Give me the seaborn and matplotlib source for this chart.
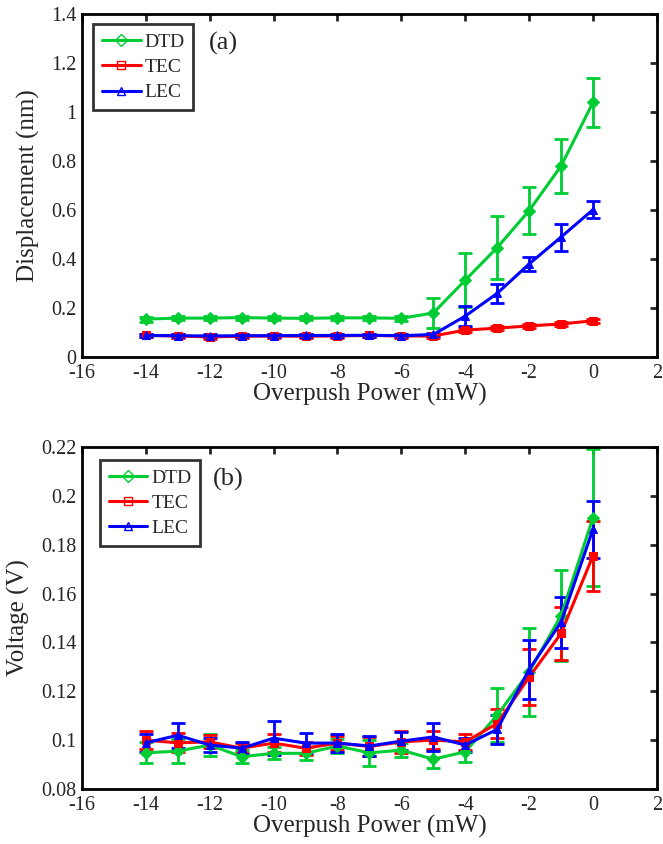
import numpy as np
import pandas as pd
import matplotlib
matplotlib.use("Agg")
import matplotlib.pyplot as plt
import seaborn as sns
from matplotlib.lines import Line2D
from matplotlib.ticker import FormatStrFormatter

# overpush power (mW)
power = [-14, -13, -12, -11, -10, -9, -8, -7, -6, -5, -4, -3, -2, -1, 0]

# (a) displacement (nm)
disp_dtd = [0.155, 0.159, 0.159, 0.161, 0.159, 0.158, 0.160, 0.160, 0.158, 0.180, 0.314, 0.447, 0.598, 0.780, 1.040]
disp_dtd_err = [0.010, 0.008, 0.008, 0.008, 0.008, 0.008, 0.008, 0.008, 0.010, 0.060, 0.110, 0.130, 0.095, 0.110, 0.100]
disp_tec = [0.088, 0.086, 0.082, 0.085, 0.086, 0.085, 0.086, 0.088, 0.086, 0.086, 0.110, 0.118, 0.127, 0.135, 0.148]
disp_tec_err = [0.008, 0.008, 0.008, 0.008, 0.008, 0.008, 0.008, 0.008, 0.008, 0.008, 0.008, 0.008, 0.008, 0.008, 0.008]
disp_lec = [0.088, 0.087, 0.086, 0.087, 0.087, 0.088, 0.088, 0.089, 0.087, 0.092, 0.167, 0.260, 0.380, 0.490, 0.602]
disp_lec_err = [0.006, 0.006, 0.006, 0.006, 0.006, 0.006, 0.006, 0.006, 0.006, 0.008, 0.040, 0.040, 0.030, 0.055, 0.035]

# (b) voltage (V)
volt_dtd = [0.0948, 0.0955, 0.0980, 0.0932, 0.0946, 0.0946, 0.0976, 0.0948, 0.0959, 0.0922, 0.0952, 0.1102, 0.1279, 0.1510, 0.1911]
volt_dtd_err = [0.0043, 0.0050, 0.0044, 0.0027, 0.0024, 0.0027, 0.0030, 0.0054, 0.0030, 0.0037, 0.0043, 0.0110, 0.0180, 0.0187, 0.0280]
volt_tec = [0.1000, 0.0989, 0.0993, 0.0967, 0.0988, 0.0967, 0.0988, 0.0974, 0.0993, 0.1000, 0.0993, 0.1068, 0.1258, 0.1437, 0.1755]
volt_tec_err = [0.0037, 0.0039, 0.0027, 0.0020, 0.0037, 0.0027, 0.0030, 0.0037, 0.0044, 0.0037, 0.0032, 0.0058, 0.0116, 0.0109, 0.0144]
volt_lec = [0.0989, 0.1020, 0.0980, 0.0967, 0.1008, 0.0988, 0.0988, 0.0976, 0.0996, 0.1013, 0.0980, 0.1044, 0.1289, 0.1483, 0.1864]
volt_lec_err = [0.0037, 0.0052, 0.0030, 0.0024, 0.0070, 0.0040, 0.0038, 0.0043, 0.0037, 0.0058, 0.0027, 0.0059, 0.0122, 0.0104, 0.0116]

labels = ["DTD", "TEC", "LEC"]
colors = {"DTD": "#00cc33", "TEC": "#ff0000", "LEC": "#0000ff"}
markers = {"DTD": "D", "TEC": "s", "LEC": "^"}

sns.set_theme(style="white")
plt.rcParams["font.family"] = "serif"
plt.rcParams["font.serif"] = ["Liberation Serif", "DejaVu Serif"]
plt.rcParams["mathtext.fontset"] = "stix"
SERIF = ["Liberation Serif", "DejaVu Serif"]


def build_frame(values, errors):
    rows = []
    for name, vals, errs in zip(labels, values, errors):
        for p, v, e in zip(power, vals, errs):
            rows.append({"power": p, "value": v, "err": e, "series": name})
    return pd.DataFrame(rows)


def draw_panel(ax, df, ylim, yticks, ylabel, tag, leg_anchor, tag_pos, ylab_x):
    for name in labels:
        sub = df[df["series"] == name]
        ax.errorbar(sub["power"], sub["value"], yerr=sub["err"], fmt="none",
                    ecolor=colors[name], elinewidth=2, capsize=5, capthick=2, zorder=2)
        sns.lineplot(data=sub, x="power", y="value", ax=ax, color=colors[name],
                     marker=markers[name], markersize=6, markeredgecolor=colors[name],
                     linewidth=2.2, errorbar=None, legend=False, zorder=3)
    xt = np.arange(-16, 3, 2)
    ax.set_xlim(-16, 2)
    ax.set_xticks(xt)
    ax.set_xticklabels([f"{t:g}" for t in xt])
    ax.set_ylim(*ylim)
    ax.set_yticks(yticks)
    ax.yaxis.set_major_formatter(FormatStrFormatter("%g"))
    ax.set_xlabel("Overpush Power (mW)", fontsize=18, labelpad=0, family=SERIF)
    ax.set_ylabel(ylabel, fontsize=18, family=SERIF)
    ax.yaxis.set_label_coords(ylab_x, 0.5)
    ax.tick_params(direction="in", top=True, right=True, length=5, width=2,
                   labelsize=14.5)
    ax.tick_params(axis="x", pad=5)
    ax.tick_params(axis="y", pad=4)
    for lab in ax.get_xticklabels() + ax.get_yticklabels():
        lab.set_family(SERIF)
    for sp in ax.spines.values():
        sp.set_linewidth(2)
        sp.set_color("black")

    handles = [Line2D([0], [0], color=colors[n], lw=2.2, marker=markers[n],
                      markersize=6, markerfacecolor="none",
                      markeredgecolor=colors[n], markeredgewidth=1) for n in labels]
    leg = ax.legend(handles, labels, loc="upper left", bbox_to_anchor=leg_anchor,
                    prop={"family": SERIF, "size": 14}, frameon=True, fancybox=False,
                    edgecolor="black", handlelength=2.0, handletextpad=0.2,
                    borderpad=0.45, labelspacing=0.4, borderaxespad=0)
    leg.get_frame().set_linewidth(2)
    ax.text(tag_pos[0], tag_pos[1], tag, transform=ax.transAxes, fontsize=19,
            va="center", ha="left", family=SERIF)


fig = plt.figure(figsize=(6.63, 8.44), dpi=100)
ax_a = fig.add_axes([0.1237, 0.577, 0.867, 0.406])
ax_b = fig.add_axes([0.1237, 0.0652, 0.867, 0.405])

df_a = build_frame([disp_dtd, disp_tec, disp_lec], [disp_dtd_err, disp_tec_err, disp_lec_err])
df_b = build_frame([volt_dtd, volt_tec, volt_lec], [volt_dtd_err, volt_tec_err, volt_lec_err])

draw_panel(ax_a, df_a, (0, 1.4), np.arange(0, 1.41, 0.2), "Displacement (nm)", "(a)",
           (0.019, 0.971), (0.220, 0.915), -0.073)
draw_panel(ax_b, df_b, (0.08, 0.22), np.arange(0.08, 0.2201, 0.02), "Voltage (V)", "(b)",
           (0.031, 0.962), (0.228, 0.906), -0.090)

fig.savefig("out.png", dpi=100)
